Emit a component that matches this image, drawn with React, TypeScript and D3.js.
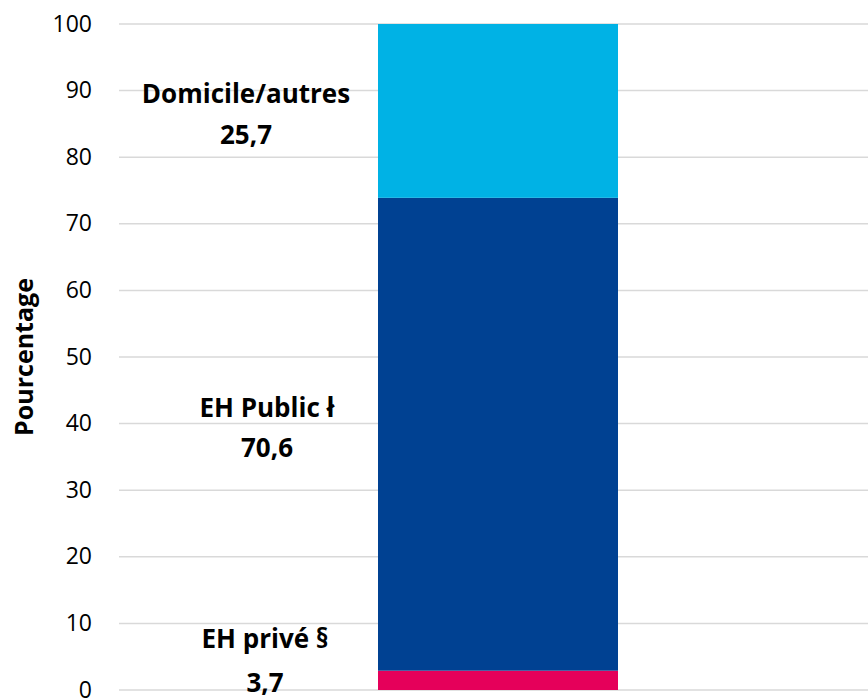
import React from "react";
import * as d3 from "d3";

const categories = ["EH privé §", "EH Public ł", "Domicile/autres"];
const values = [2.9, 71.0, 26.1];
const labelValues = ["3,7", "70,6", "25,7"];
const colors = ["#E5005A", "#004192", "#00B2E5"];
const yTicks = [0, 10, 20, 30, 40, 50, 60, 70, 80, 90, 100];

const W = 868;
const H = 699;
const FONT = "'Open Sans', sans-serif";

export default function App() {
  const y = d3.scaleLinear().domain([0, 100]).range([690, 24]);
  const x = d3.scaleBand().domain(["all"]).range([119, 868]).paddingInner(0).paddingOuter(0);
  const barX0 = 378;
  const barX1 = 618;
  const stack = d3.stack<any>().keys(categories)([
    Object.fromEntries(categories.map((c, i) => [c, values[i]])),
  ]);
  const labelPos = [
    { x: 265, y1: 648, y2: 692 },
    { x: 267, y1: 417, y2: 457 },
    { x: 246, y1: 103, y2: 144 },
  ];
  return (
    <svg width={W} height={H} style={{ position: "absolute", left: 0, top: 0, background: "#fff" }}>
      {yTicks.map((t) => (
        <g key={t}>
          <line x1={x.range()[0]} x2={x.range()[1]} y1={y(t)} y2={y(t)} stroke="#d9d9d9" strokeWidth={1.5} />
          <text x={92} y={y(t) + 7.5} textAnchor="end" fontFamily={FONT} fontSize={23} fill="#000">
            {t}
          </text>
        </g>
      ))}
      {stack.map((s, i) => (
        <rect
          key={s.key}
          x={barX0}
          width={barX1 - barX0}
          y={y(s[0][1])}
          height={y(s[0][0]) - y(s[0][1])}
          fill={colors[i]}
        />
      ))}
      {categories.map((c, i) => (
        <g key={c}>
          <text x={labelPos[i].x} y={labelPos[i].y1} textAnchor="middle" fontFamily={FONT} fontWeight="bold" fontSize={26} fill="#000">
            {c}
          </text>
          <text x={labelPos[i].x} y={labelPos[i].y2} textAnchor="middle" fontFamily={FONT} fontWeight="bold" fontSize={26} fill="#000">
            {labelValues[i]}
          </text>
        </g>
      ))}
      <text
        transform={`translate(33, ${(y(0) + y(100)) / 2}) rotate(-90)`}
        textAnchor="middle"
        fontFamily={FONT}
        fontWeight="bold"
        fontSize={25}
        fill="#000"
      >
        Pourcentage
      </text>
    </svg>
  );
}
